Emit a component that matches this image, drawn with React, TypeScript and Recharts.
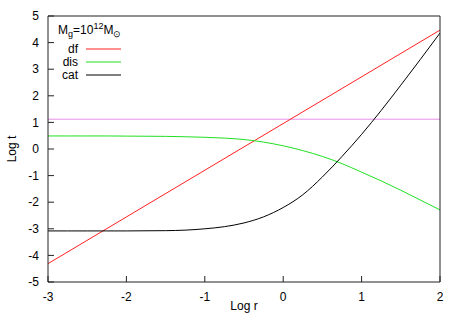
import React from 'react';
import { LineChart, Line, XAxis, YAxis, ReferenceLine } from 'recharts';

// Log r sample points
const logR = [-3, -2.75, -2.5, -2.25, -2, -1.75, -1.5, -1.25, -1, -0.75, -0.5, -0.25, 0, 0.25, 0.5, 0.75, 1, 1.25, 1.5, 1.75, 2];
// disruption time (Log t)
const disT = [0.49, 0.49, 0.49, 0.49, 0.485, 0.48, 0.475, 0.46, 0.44, 0.41, 0.355, 0.26, 0.12, -0.06, -0.28, -0.55, -0.87, -1.2, -1.55, -1.92, -2.29];
// catastrophic time (Log t)
const catT = [-3.08, -3.08, -3.08, -3.08, -3.08, -3.075, -3.07, -3.05, -3.0, -2.92, -2.78, -2.55, -2.2, -1.72, -1.05, -0.28, 0.55, 1.45, 2.4, 3.37, 4.36];
// dynamical friction time: straight line
const dfR = [-3, 2];
const dfT = [-4.31, 4.47];
// constant horizontal level
const hubbleT = 1.12;

const xTicks = [-3, -2, -1, 0, 1, 2];
const yTicks = [-5, -4, -3, -2, -1, 0, 1, 2, 3, 4, 5];

const disData = logR.map((r, i) => ({ r, t: disT[i] }));
const catData = logR.map((r, i) => ({ r, t: catT[i] }));
const dfData = dfR.map((r, i) => ({ r, t: dfT[i] }));

const FONT = '"Liberation Sans", Arial, Helvetica, sans-serif';
const AX = '#222';

export default function App() {
  return (
    <div style={{ position: 'absolute', left: 0, top: 0, width: 463, height: 324, background: '#fff' }}>
      <LineChart width={463} height={324} margin={{ top: 15, right: 22, bottom: 12, left: 0 }}>
        <XAxis
          xAxisId={0}
          dataKey="r"
          type="number"
          domain={[-3, 2]}
          ticks={xTicks}
          allowDataOverflow
          height={30}
          tickSize={-6}
          tickMargin={16}
          stroke={AX}
          tick={{ fill: '#000', fontSize: 12, fontFamily: FONT }}
          label={{ value: 'Log r', position: 'insideBottom', offset: 2, fill: '#000', fontSize: 12, fontFamily: FONT }}
        />
        <XAxis
          xAxisId="top"
          orientation="top"
          type="number"
          domain={[-3, 2]}
          ticks={xTicks}
          allowDataOverflow
          height={1}
          tickSize={-6}
          tick={false}
          stroke={AX}
        />
        <YAxis
          yAxisId={0}
          type="number"
          domain={[-5, 5]}
          ticks={yTicks}
          allowDataOverflow
          width={48}
          tickSize={-6}
          tickMargin={15}
          stroke={AX}
          tick={{ fill: '#000', fontSize: 12, fontFamily: FONT }}
        />
        <YAxis
          yAxisId="right"
          orientation="right"
          type="number"
          domain={[-5, 5]}
          ticks={yTicks}
          allowDataOverflow
          width={1}
          tickSize={-6}
          tick={false}
          stroke={AX}
        />
        <ReferenceLine y={hubbleT} stroke="#e890e8" strokeWidth={1} />
        <Line data={dfData} dataKey="t" type="linear" stroke="#ff2020" strokeWidth={1} dot={false} isAnimationActive={false} />
        <Line data={disData} dataKey="t" type="monotone" stroke="#20e020" strokeWidth={1} dot={false} isAnimationActive={false} />
        <Line data={catData} dataKey="t" type="monotone" stroke="#000" strokeWidth={1} dot={false} isAnimationActive={false} />
      </LineChart>
      <svg width={463} height={324} style={{ position: 'absolute', left: 0, top: 0, pointerEvents: 'none' }}>
        <text x={12} y={149} transform="rotate(-90 12 149)" textAnchor="middle" dominantBaseline="central" fontSize={12} fontFamily={FONT} fill="#000">Log t</text>
        <text x={58} y={34} fontSize={12} fontFamily={FONT} fill="#000">
          M<tspan fontSize={9} dy={3}>g</tspan>
          <tspan dy={-3}>=10</tspan>
          <tspan fontSize={9} dy={-5}>12</tspan>
          <tspan dy={5}>M</tspan>
          <tspan fontSize={9} dy={3}>⊙</tspan>
        </text>
        <text x={78} y={53} textAnchor="end" fontSize={12} fontFamily={FONT} fill="#000">df</text>
        <line x1={86} x2={121} y1={49} y2={49} stroke="#ff2020" strokeWidth={1} />
        <text x={78} y={66} textAnchor="end" fontSize={12} fontFamily={FONT} fill="#000">dis</text>
        <line x1={86} x2={121} y1={62} y2={62} stroke="#20e020" strokeWidth={1} />
        <text x={78} y={79} textAnchor="end" fontSize={12} fontFamily={FONT} fill="#000">cat</text>
        <line x1={86} x2={121} y1={75} y2={75} stroke="#000" strokeWidth={1} />
      </svg>
    </div>
  );
}
